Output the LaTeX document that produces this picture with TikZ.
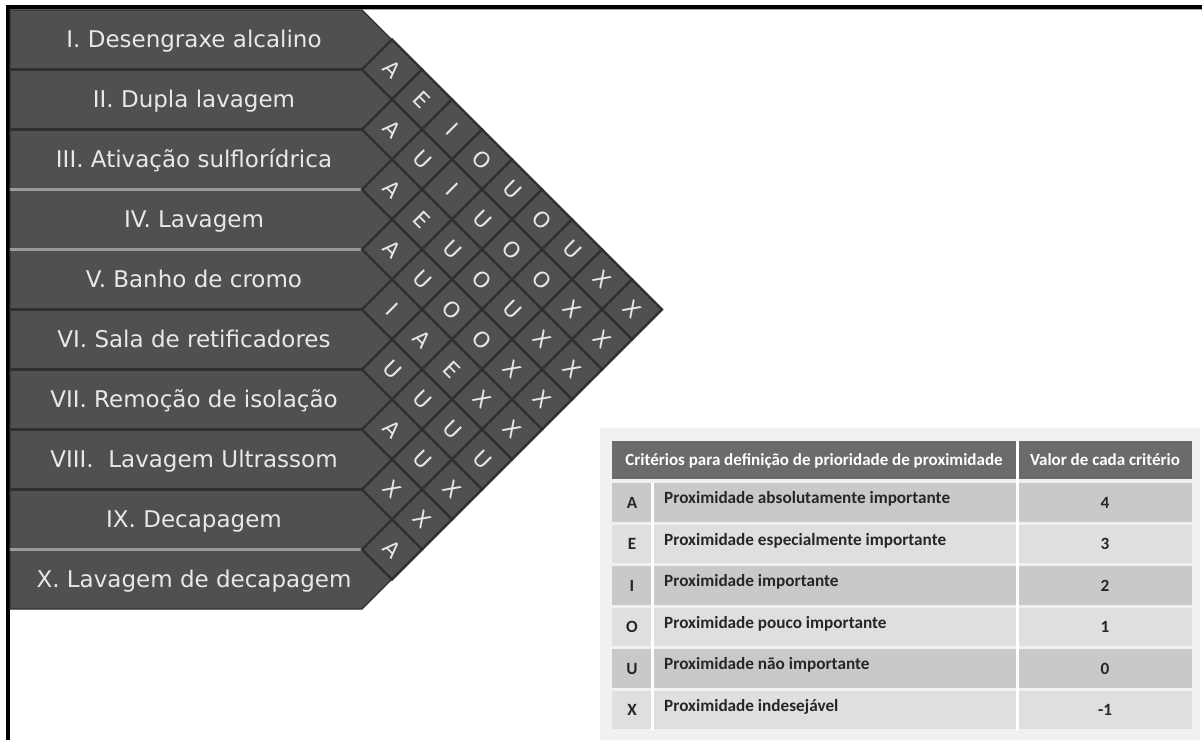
\documentclass[tikz,border=0pt]{standalone}
\usepackage{fontspec}
\setmainfont{DejaVu Sans}
\newfontfamily\tabfont{Carlito}
\definecolor{barfill}{HTML}{505050}
\definecolor{gridline}{HTML}{2F2F2F}
\definecolor{lightgap}{HTML}{9A9A9A}
\definecolor{bartext}{HTML}{E8E8E8}
\definecolor{tabbg}{HTML}{F1F1F1}
\definecolor{hdrfill}{HTML}{6B6B6B}
\definecolor{rowdark}{HTML}{C9C9C9}
\definecolor{rowlight}{HTML}{DFDFDF}
\definecolor{tabtext}{HTML}{262626}
\begin{document}
\begin{tikzpicture}[x=1pt,y=-1pt,
  barlabel/.style={anchor=base,text=bartext,inner sep=0pt,font=\fontsize{23}{23}\selectfont},
  cellbox/.style={draw=gridline,line width=2.2pt,fill=barfill,minimum size=42.43pt,inner sep=0pt,rotate=-45,text=bartext,font=\fontsize{21.5}{21.5}\selectfont},
  hdrtext/.style={anchor=base,inner sep=0pt,text=white,font=\tabfont\bfseries\fontsize{17}{17}\selectfont},
  tabcell/.style={inner sep=0pt,text=tabtext,font=\tabfont\bfseries\fontsize{17.2}{17.2}\selectfont}]
\useasboundingbox (0,0) rectangle (1202,740);
\fill[white] (0,0) rectangle (1202,740);
% frame
\fill[black] (6,5) rectangle (9.5,740);
\fill[black] (6,5) rectangle (1202,8.5);
\fill[gray!70] (9.5,8.5) rectangle (1202,9.5);
% chart body
\filldraw[fill=barfill,draw=gridline,line width=1.2pt]
  (10,10) -- (362,10) -- (662,309.5) -- (362,609) -- (10,609) -- cycle;
% gaps between bars
\foreach \k/\c in {1/gridline,2/gridline,3/lightgap,4/lightgap,5/gridline,6/gridline,7/gridline,8/gridline,9/lightgap}{
  \pgfmathsetmacro\gy{69.5+60*(\k-1)}
  \draw[\c,line width=3.5pt] (10,\gy) -- (362,\gy);
}
% cells
\foreach \i/\j/\l in {1/2/A,1/3/E,1/4/I,1/5/O,1/6/U,1/7/O,1/8/U,1/9/X,1/10/X,
  2/3/A,2/4/U,2/5/I,2/6/U,2/7/O,2/8/O,2/9/X,2/10/X,
  3/4/A,3/5/E,3/6/U,3/7/O,3/8/U,3/9/X,3/10/X,
  4/5/A,4/6/U,4/7/O,4/8/O,4/9/X,4/10/X,
  5/6/I,5/7/A,5/8/E,5/9/X,5/10/X,
  6/7/U,6/8/U,6/9/U,6/10/U,
  7/8/A,7/9/U,7/10/X,
  8/9/X,8/10/X,
  9/10/A}{
  \pgfmathsetmacro\cx{362+30*(\j-\i)}
  \pgfmathsetmacro\cy{39.5+30*(\i+\j-2)}
  \node[cellbox] (c\i x\j) at (\cx,\cy) {\l};
}
% bar labels
\foreach \n/\t in {1/{I. Desengraxe alcalino},2/{II. Dupla lavagem},3/{III. Ativação sulflorídrica},
  4/{IV. Lavagem},5/{V. Banho de cromo},6/{VI. Sala de retificadores},7/{VII. Remoção de isolação},
  8/{VIII.\ \ Lavagem Ultrassom},9/{IX. Decapagem},10/{X. Lavagem de decapagem}}{
  \pgfmathsetmacro\by{39.5+60*(\n-1)+8.2}
  \node[barlabel] (b\n) at (194,\by) {\t};
}
% table
\fill[tabbg] (600,428) rectangle (1200,740);
\fill[hdrfill] (612,441) rectangle (1192,479);
\foreach \r/\c in {0/rowdark,1/rowlight,2/rowdark,3/rowlight,4/rowdark,5/rowlight}{
  \pgfmathsetmacro\rt{483+41.5*\r}
  \fill[\c] (612,\rt) rectangle (1192,\rt+38.5);
}
\draw[white,line width=2.5pt] (652.5,483) -- (652.5,729.5);
\draw[white,line width=2.5pt] (1017.5,441) -- (1017.5,729.5);
\node[hdrtext] (h1) at (814,465.5) {Critérios para definição de prioridade de proximidade};
\node[hdrtext] (h2) at (1105,465.5) {Valor de cada critério};
\foreach \r/\a/\d/\v in {0/A/{Proximidade absolutamente importante}/4,
  1/E/{Proximidade especialmente importante}/3,
  2/I/{Proximidade importante}/2,
  3/O/{Proximidade pouco importante}/1,
  4/U/{Proximidade não importante}/0,
  5/X/{Proximidade indesejável}/-1}{
  \pgfmathsetmacro\rt{483+41.5*\r}
  \node[tabcell,anchor=base] (l\r) at (632,\rt+25) {\a};
  \node[tabcell,anchor=base west] (d\r) at (664,\rt+20.5) {\d};
  \node[tabcell,anchor=base] (v\r) at (1105,\rt+25) {\v};
}
\end{tikzpicture}
\end{document}
